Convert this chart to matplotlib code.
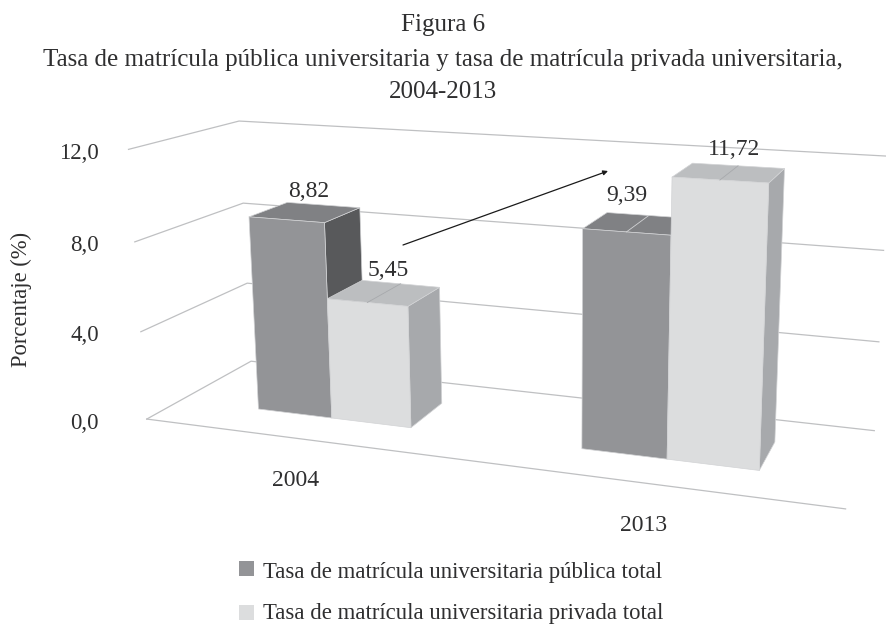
import numpy as np
import matplotlib
matplotlib.use("Agg")
import matplotlib.pyplot as plt

# === Donnees ===
categories = ["2004", "2013"]
publica = [8.82, 9.39]
privada = [5.45, 11.72]
publica_labels = ["8,82", "9,39"]
privada_labels = ["5,45", "11,72"]
y_ticks = [0, 4, 8, 12]
y_tick_labels = ["0,0", "4,0", "8,0", "12,0"]
legend_labels = ["Tasa de matrícula universitaria pública total",
                 "Tasa de matrícula universitaria privada total"]

# === Couleurs ===
c_text = "#2f2f30"
c_grid = "#bfc0c2"
c_pub = {"front": "#939497", "top": "#808184", "side": "#58595b"}
c_priv = {"front": "#dcddde", "top": "#bcbec0", "side": "#a7a9ac"}
c_edge = "#d2d3d5"

# Mise en page de la boite 3D
w_pub = 0.24
w_priv = 0.25
v_front, v_back = 0.31, 0.69

# calage de la perspective : (u, v, h) -> pixel
calib = [
    (0, 0, 0, 148, 419), (0, 0, 4, 139, 331), (0, 0, 8, 134, 242), (0, 0, 12, 128, 149),
    (0, 1, 0, 252, 362), (0, 1, 4, 247, 283), (0, 1, 8, 243, 203), (0, 1, 12, 238, 121),
    (2, 1, 0, 875, 431), (2, 1, 4, 879, 341), (2, 1, 8, 884, 251), (2, 1, 12, 887, 155),
    (2, 0, 0, 846, 509),
    (0.25, 0.31, 0, 257, 408), (0.25, 0.31, 8.82, 250, 218),
    (0.75, 0.31, 0, 406, 426), (0.75, 0.31, 5.45, 404, 307),
    (1.25, 0.31, 0, 582, 449), (1.25, 0.31, 9.39, 585, 229),
    (1.75, 0.31, 0, 757, 471), (1.75, 0.31, 11.72, 767, 183),
]
A, b = [], []
for u, v, h, px, py in calib:
    A.append([u, v, h, 1, 0, 0, 0, 0, -px*u, -px*v, -px*h])
    b.append(px)
    A.append([0, 0, 0, 0, u, v, h, 1, -py*u, -py*v, -py*h])
    b.append(py)
m = np.linalg.lstsq(np.array(A, float), np.array(b, float), rcond=None)[0]
M = np.append(m, 1).reshape(3, 4)


def proj(u, v, h):
    p = M @ np.array([u, v, h, 1.0])
    return p[0] / p[2], p[1] / p[2]


def face(ax, pts, color):
    xy = np.array([proj(*p) for p in pts])
    ax.fill(xy[:, 0], xy[:, 1], facecolor=color, edgecolor=c_edge, linewidth=0.5,
            joinstyle="round", zorder=3)


def bar(ax, u0, u1, val, col):
    # cote droit, dessus, puis face avant
    face(ax, [(u1, v_front, 0), (u1, v_back, 0), (u1, v_back, val), (u1, v_front, val)], col["side"])
    face(ax, [(u0, v_front, val), (u1, v_front, val), (u1, v_back, val), (u0, v_back, val)], col["top"])
    face(ax, [(u0, v_front, 0), (u1, v_front, 0), (u1, v_front, val), (u0, v_front, val)], col["front"])


plt.rcParams["font.family"] = ["Liberation Serif", "DejaVu Serif"]
fig = plt.figure(figsize=(8.87, 6.25), dpi=100)
ax = fig.add_axes([0, 0, 1, 1])
ax.set_xlim(0, 887)
ax.set_ylim(625, 0)
ax.axis("off")

# Titre
ax.text(443, 31, "Figura 6", ha="center", va="baseline", fontsize=18, color=c_text)
ax.text(443, 66, "Tasa de matrícula pública universitaria y tasa de matrícula privada universitaria,",
        ha="center", va="baseline", fontsize=18, color=c_text)
ax.text(443, 98, "2004-2013", ha="center", va="baseline", fontsize=18, color=c_text)

# Grille : paroi gauche et fond
for t, lab in zip(y_ticks, y_tick_labels):
    pts = np.array([proj(0, 0, t), proj(0, 1, t), proj(2, 1, t)])
    ax.plot(pts[:, 0], pts[:, 1], color=c_grid, linewidth=0.9, zorder=1)
    ax.text(99, proj(0, 0, t)[1] + 4, lab, ha="right", va="center", fontsize=16.5, color=c_text)
sol = np.array([proj(0, 0, 0), proj(2, 0, 0)])
ax.plot(sol[:, 0], sol[:, 1], color=c_grid, linewidth=0.9, zorder=1)

# Barres
val_off_pub = [(3, -21), (-11, -28)]
val_off_priv = [(4, -22), (5, -23)]
for i, cat in enumerate(categories):
    c = i + 0.5
    bar(ax, c - w_pub, c, publica[i], c_pub)
    bar(ax, c, c + w_priv, privada[i], c_priv)

    # trait au milieu du dessus
    if i == 1:
        ln = np.array([proj(c - w_pub / 2, v_front, publica[i]), proj(c - w_pub / 2, v_back, publica[i])])
        ax.plot(ln[:, 0], ln[:, 1], color=c_edge, linewidth=0.6, zorder=4)
    ln = np.array([proj(c + w_priv / 2, v_front, privada[i]), proj(c + w_priv / 2, v_back, privada[i])])
    ax.plot(ln[:, 0], ln[:, 1], color="#a7a9ac", linewidth=0.6, zorder=4)

    # etiquettes de valeur
    for u, val, lab, off in [(c - w_pub / 2, publica[i], publica_labels[i], val_off_pub[i]),
                             (c + w_priv / 2, privada[i], privada_labels[i], val_off_priv[i])]:
        x, y = proj(u, (v_front + v_back) / 2, val)
        ax.text(x + off[0], y + off[1], lab, ha="center", va="center", fontsize=17, color=c_text, zorder=5)

    x, y = proj(c, 0, 0)
    ax.text(x - 6, y + 47, cat, ha="center", va="baseline", fontsize=17, color=c_text)

# Fleche
ax.annotate("", xy=(608, 171), xytext=(403, 245),
            arrowprops=dict(arrowstyle="-|>", color="#1a1a1a", lw=0.9, mutation_scale=7, shrinkA=0, shrinkB=0))

# Axe Y
ax.text(21, 299, "Porcentaje (%)", rotation=90, ha="center", va="center", fontsize=16.3, color=c_text)

# Legende
for lab, col, y0, yb in zip(legend_labels, [c_pub["front"], c_priv["front"]], [561, 605], [578, 619.5]):
    ax.fill([239, 254, 254, 239], [y0, y0, y0 + 15, y0 + 15], color=col, linewidth=0)
    ax.text(263, yb, lab, ha="left", va="baseline", fontsize=16.4, color=c_text)

fig.savefig("out.png", dpi=100)
